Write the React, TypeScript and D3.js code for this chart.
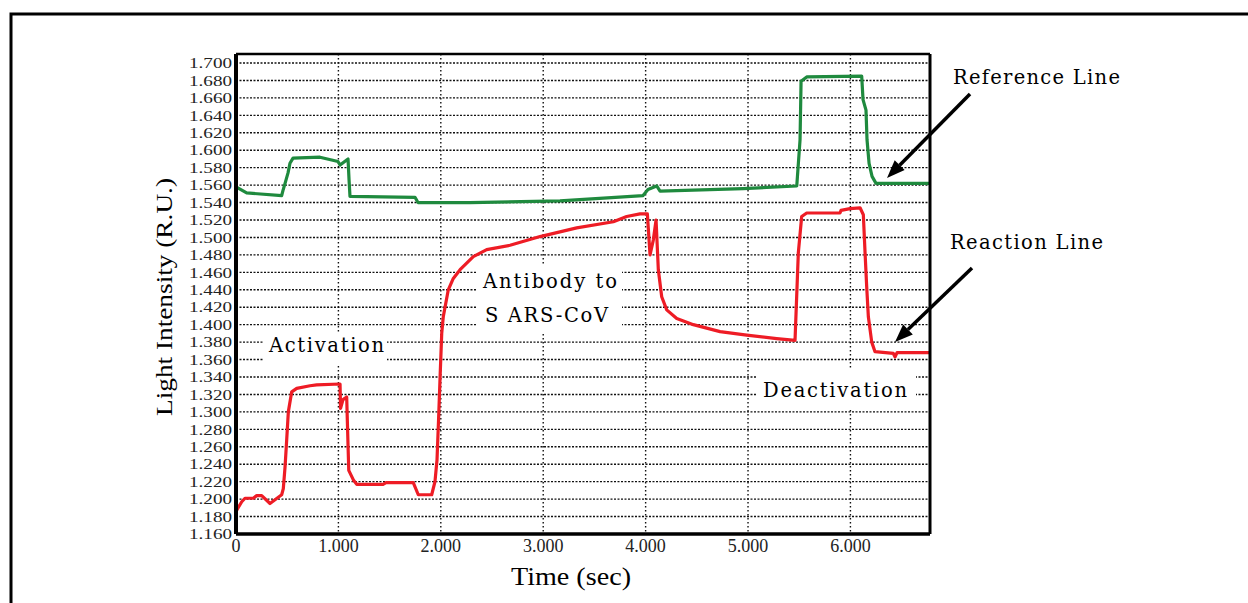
import React from "react";
import * as d3 from "d3";

// Reference line (green) — time in sec, light intensity in R.U.
const greenTime = [0, 104, 446, 459, 479, 508, 527, 557, 820, 996, 1016, 1094, 1104, 1113, 1748, 1777, 2285, 3164, 3975, 4023, 4108, 4141, 4951, 5476, 5508, 5518, 5573, 6110, 6123, 6152, 6162, 6182, 6211, 6250, 6777];
const greenValue = [1.558, 1.551, 1.548, 1.554, 1.562, 1.574, 1.585, 1.591, 1.592, 1.587, 1.583, 1.590, 1.566, 1.547, 1.546, 1.540, 1.540, 1.542, 1.548, 1.555, 1.559, 1.553, 1.556, 1.559, 1.612, 1.679, 1.684, 1.685, 1.658, 1.646, 1.612, 1.585, 1.570, 1.562, 1.562];

// Reaction line (red)
const redTime = [0, 56, 88, 169, 202, 251, 332, 446, 462, 479, 495, 511, 544, 593, 723, 788, 1016, 1021, 1045, 1081, 1087, 1101, 1146, 1179, 1436, 1465, 1731, 1780, 1911, 1943, 1963, 1978, 1992, 2009, 2024, 2073, 2122, 2188, 2317, 2448, 2676, 2969, 3327, 3685, 3815, 3945, 4017, 4043, 4075, 4102, 4124, 4157, 4206, 4304, 4466, 4727, 4987, 5280, 5459, 5491, 5524, 5573, 5898, 5908, 5996, 6094, 6126, 6143, 6159, 6175, 6208, 6240, 6419, 6436, 6455, 6777];
const redValue = [1.186, 1.197, 1.201, 1.201, 1.204, 1.204, 1.195, 1.205, 1.212, 1.237, 1.268, 1.300, 1.323, 1.327, 1.330, 1.331, 1.332, 1.304, 1.314, 1.317, 1.291, 1.233, 1.222, 1.217, 1.217, 1.219, 1.219, 1.205, 1.205, 1.220, 1.245, 1.291, 1.337, 1.390, 1.409, 1.440, 1.453, 1.463, 1.478, 1.486, 1.491, 1.501, 1.511, 1.518, 1.524, 1.527, 1.527, 1.480, 1.497, 1.520, 1.463, 1.432, 1.417, 1.407, 1.400, 1.392, 1.388, 1.384, 1.382, 1.482, 1.524, 1.528, 1.528, 1.531, 1.533, 1.534, 1.526, 1.482, 1.443, 1.409, 1.380, 1.369, 1.367, 1.363, 1.368, 1.368];

const yTicks = d3.range(0, 28).map((i) => +(1.16 + i * 0.02).toFixed(3));
const xTicks = [0, 1000, 2000, 3000, 4000, 5000, 6000];
const xTickLabels = ["0", "1.000", "2.000", "3.000", "4.000", "5.000", "6.000"];

const L = 236, R = 930, T = 54, B = 534;

export default function App() {
  const x = d3.scaleLinear().domain([0, 6777]).range([L, R]);
  const y = d3.scaleLinear().domain([1.16, 1.7]).range([B, 63]);
  const line = d3
    .line<[number, number]>()
    .x((d) => x(d[0]))
    .y((d) => y(d[1]));
  const green = greenTime.map((t, i) => [t, greenValue[i]] as [number, number]);
  const red = redTime.map((t, i) => [t, redValue[i]] as [number, number]);

  const annFont = "'DejaVu Serif', serif";
  const tickFont = "'Liberation Serif', 'Times New Roman', serif";

  const arrow = (x1: number, y1: number, x2: number, y2: number) => {
    const ang = Math.atan2(y2 - y1, x2 - x1);
    const len = 18, w = 7;
    const bx = x2 - len * Math.cos(ang), by = y2 - len * Math.sin(ang);
    const px = -Math.sin(ang) * w, py = Math.cos(ang) * w;
    return (
      <g>
        <line x1={x1} y1={y1} x2={bx} y2={by} stroke="#000" strokeWidth={3.5} />
        <polygon points={`${x2},${y2} ${bx + px},${by + py} ${bx - px},${by - py}`} fill="#000" />
      </g>
    );
  };

  return (
    <svg width={1248} height={603} style={{ position: "absolute", left: 0, top: 0, background: "#fff" }}>
      <rect x={0} y={0} width={1248} height={603} fill="#fff" />
      {/* outer frame */}
      <path d="M11,603 V14 H1248" fill="none" stroke="#000" strokeWidth={3} />

      {/* plot background */}
      <rect x={L} y={T} width={R - L} height={B - T} fill="#fff" />

      {/* horizontal grid */}
      {yTicks.slice(1).map((v) => (
        <line key={"h" + v} x1={L} x2={R} y1={y(v)} y2={y(v)} stroke="#111" strokeWidth={1.4} strokeDasharray="2 1.5" />
      ))}
      {/* vertical grid */}
      {xTicks.slice(1).map((t) => (
        <line key={"v" + t} x1={x(t)} x2={x(t)} y1={T} y2={B} stroke="#111" strokeWidth={1.4} strokeDasharray="1.5 2.5" />
      ))}

      {/* label boxes that mask the grid */}
      <rect x={263} y={333} width={124} height={33} fill="#fff" />
      <rect x={477} y={264} width={145} height={68} fill="#fff" />
      <rect x={756} y={369} width={160} height={41} fill="#fff" />

      {/* series */}
      <path d={line(green) || ""} fill="none" stroke="#1f8a3e" strokeWidth={3.2} strokeLinejoin="round" />
      <path d={line(red) || ""} fill="none" stroke="#ee1c25" strokeWidth={3.2} strokeLinejoin="round" />

      {/* plot frame */}
      <line x1={L} x2={R} y1={T} y2={T} stroke="#000" strokeWidth={2.5} />
      <line x1={R} x2={R} y1={T} y2={B} stroke="#000" strokeWidth={3} />
      <line x1={L} x2={R} y1={B} y2={B} stroke="#000" strokeWidth={3.5} />
      <line x1={L} x2={L} y1={T} y2={B} stroke="#000" strokeWidth={4} />

      {/* y ticks */}
      {yTicks.map((v) => (
        <text key={"yt" + v} x={232} y={y(v)} dy="0.35em" textAnchor="end" fontFamily={tickFont} fontSize={15} fill="#222" textLength={43} lengthAdjust="spacingAndGlyphs">
          {v.toFixed(3)}
        </text>
      ))}
      {/* x ticks */}
      {xTicks.map((t, i) => (
        <text key={"xt" + t} x={x(t)} y={552} textAnchor="middle" fontFamily={tickFont} fontSize={18} fill="#222">
          {xTickLabels[i]}
        </text>
      ))}

      {/* axis titles */}
      <text x={571} y={585} textAnchor="middle" fontFamily={tickFont} fontSize={25} fill="#000" textLength={120} lengthAdjust="spacingAndGlyphs">
        Time (sec)
      </text>
      <text transform="translate(172,297) rotate(-90)" textAnchor="middle" fontFamily={tickFont} fontSize={23} fill="#000" textLength={238} lengthAdjust="spacingAndGlyphs">
        Light Intensity (R.U.)
      </text>

      {/* annotations */}
      <text x={269} y={352} fontFamily={annFont} fontSize={19.5} fill="#000" textLength={115} lengthAdjust="spacing">Activation</text>
      <text x={483} y={288} fontFamily={annFont} fontSize={19.5} fill="#000" textLength={134} lengthAdjust="spacing">Antibody to</text>
      <text x={485} y={322} fontFamily={annFont} fontSize={19.5} fill="#000" textLength={123} lengthAdjust="spacing">S ARS-CoV</text>
      <text x={763} y={397} fontFamily={annFont} fontSize={19.5} fill="#000" textLength={144} lengthAdjust="spacing">Deactivation</text>
      <text x={953} y={84} fontFamily={annFont} fontSize={19.5} fill="#000" textLength={167} lengthAdjust="spacing">Reference Line</text>
      <text x={950} y={249} fontFamily={annFont} fontSize={19.5} fill="#000" textLength={153} lengthAdjust="spacing">Reaction Line</text>

      {arrow(970, 94, 887, 178)}
      {arrow(972, 268, 895, 342)}
    </svg>
  );
}
